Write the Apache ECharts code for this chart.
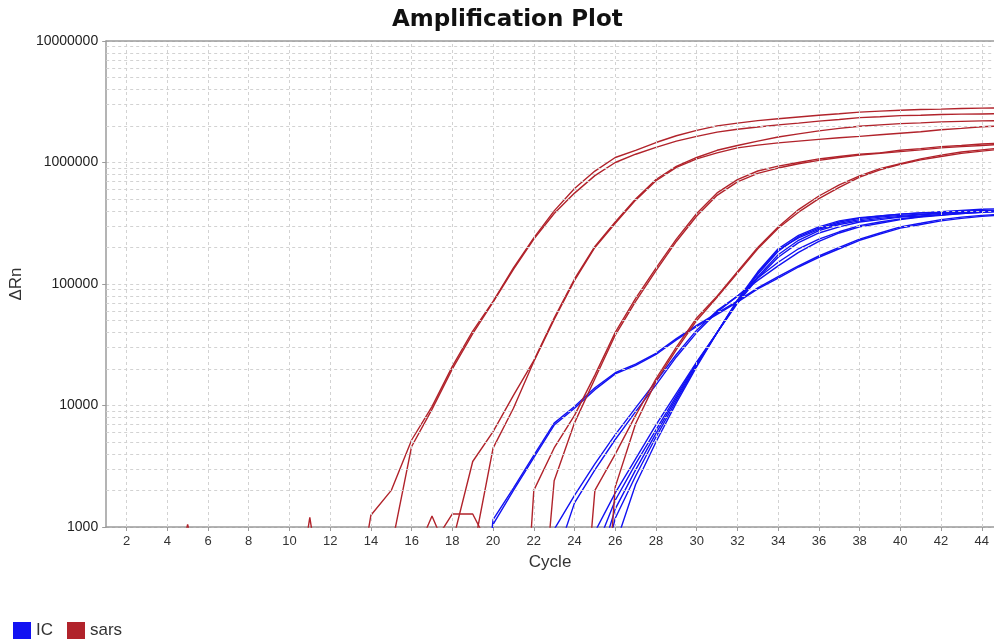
<!DOCTYPE html>
<html>
<head>
<meta charset="utf-8">
<title>Amplification Plot</title>
<script src="https://cdn.jsdelivr.net/npm/echarts@6/dist/echarts.min.js"></script>
<style>
  html, body { margin: 0; padding: 0; background: #fff; }
  #chart { width: 994px; height: 641px; }
</style>
</head>
<body>
<div id="chart"></div>
<script>
// x: PCR cycle number
var cycles = [1,2,3,4,5,6,7,8,9,10,11,12,13,14,15,16,17,18,19,20,21,22,23,24,25,26,27,28,29,30,31,32,33,34,35,36,37,38,39,40,41,42,43,44,45]
var cycleTicks = [2,4,6,8,10,12,14,16,18,20,22,24,26,28,30,32,34,36,38,40,42,44]
// dashed grid between the decades
var minorLevels = [2000,3000,4000,5000,6000,7000,8000,9000,
  20000,30000,40000,50000,60000,70000,80000,90000,
  200000,300000,400000,500000,600000,700000,800000,900000,
  2000000,3000000,4000000,5000000,6000000,7000000,8000000,9000000]

// IC (internal control) wells - delta Rn per cycle
var icE1 = [300,250,400,350,200,300,450,350,250,300,400,300,250,350,300,200,250,150,30,
  1150,2090,3890,7160,9800,14000,18600,21900,26900,35500,45700,57500,72400,93000,115000,141000,170000,200000,234000,263000,295000,316000,339000,355000,367000,376000]
var icE2 = [250,300,350,300,250,350,400,300,300,250,350,250,300,300,250,250,200,100,20,
  1050,2000,3720,6900,9500,13500,18200,21400,26300,34700,44700,56200,70800,91200,112000,138000,166000,195000,229000,257000,288000,309000,331000,347000,360000,370000]
var icF1 = [350,300,250,300,400,350,300,250,350,300,250,300,350,300,250,300,350,300,250,200,150,50,
  955,1820,3310,5750,9550,15800,26300,41700,60300,79400,107000,141000,182000,224000,263000,295000,316000,339000,355000,367000,380000,389000,398000]
var icF2 = [300,350,300,250,300,350,250,300,350,250,300,350,250,300,350,300,250,300,350,300,250,200,
  500,1580,2950,5250,8900,14800,25100,39800,58900,79400,112000,151000,195000,234000,269000,302000,324000,343000,359000,372000,385000,394000,403000]
var icG1 = [250,300,350,300,250,300,350,400,300,250,300,350,300,250,300,350,300,250,300,350,300,300,350,
  300,912,1910,3630,6920,12600,22900,39800,69200,112000,166000,219000,263000,295000,324000,339000,355000,363000,372000,380000,389000,394000]
var icG2 = [300,250,300,350,300,250,300,350,300,250,300,350,300,250,300,350,300,250,300,250,300,250,200,
  100,631,1660,3310,6310,12000,22400,39800,70800,115000,174000,229000,275000,309000,331000,347000,359000,372000,380000,389000,398000,403000]
var icG3 = [350,300,250,300,350,300,250,300,350,300,250,300,350,300,250,300,350,300,250,300,250,200,150,
  50,398,1410,2950,5890,11500,21900,39800,72400,120000,186000,245000,288000,324000,347000,363000,376000,385000,394000,403000,412000,417000]
var icG4 = [300,350,300,250,300,350,300,250,300,350,300,250,300,350,300,250,300,350,300,250,300,250,200,150,
  63,708,2240,5010,10500,20900,39800,74100,126000,195000,251000,295000,331000,351000,363000,376000,385000,389000,398000,403000,407000]
var icG5 = [250,300,350,300,250,300,350,300,250,300,350,300,250,300,350,300,250,300,350,300,250,300,250,200,
  250,1180,2630,5500,11000,21400,39800,72400,123000,191000,240000,282000,316000,339000,355000,367000,376000,385000,394000,398000,403000]

// sars wells - delta Rn per cycle
var sarsA1 = [150,300,250,200,1050,200,350,280,300,250,320,300,130,
  1250,2000,5200,9800,21000,41000,72000,136000,240000,400000,610000,850000,1100000,1260000,1460000,1660000,1840000,2000000,2110000,2210000,2290000,2370000,2450000,2520000,2600000,2650000,2690000,2730000,2750000,2780000,2800000,2820000]
var sarsA2 = [200,180,350,300,250,400,300,200,350,300,200,250,300,400,
  670,4600,9300,20000,39000,71000,132000,234000,380000,560000,780000,1000000,1170000,1330000,1500000,1640000,1780000,1880000,1960000,2040000,2110000,2190000,2260000,2340000,2380000,2430000,2450000,2480000,2500000,2510000,2520000]
var sarsB1 = [300,250,200,350,300,250,300,200,250,300,200,350,300,250,200,300,350,
  740,3460,6100,12100,23400,52500,110000,204000,324000,500000,725000,930000,1100000,1260000,1380000,1500000,1620000,1720000,1820000,1910000,1990000,2040000,2090000,2120000,2160000,2180000,2200000,2210000]
var sarsB2 = [250,300,350,250,200,300,350,250,300,200,300,250,350,300,250,300,300,350,
  600,4460,9500,23000,51000,107000,200000,316000,490000,708000,912000,1070000,1200000,1320000,1390000,1450000,1500000,1550000,1600000,1640000,1690000,1740000,1790000,1860000,1910000,1970000,2000000]
var sarsC1 = [200,300,250,350,200,300,250,200,300,100,1200,100,250,300,200,500,1230,500,300,200,5,
  2000,4470,8300,17800,40000,76000,135000,234000,380000,562000,724000,851000,933000,1000000,1070000,1120000,1170000,1200000,1260000,1300000,1350000,1380000,1420000,1440000]
var sarsC2 = [300,250,200,300,350,250,200,300,250,300,200,300,250,200,300,350,700,1280,1280,600,300,30,
  2400,7200,16600,38000,72000,129000,224000,363000,537000,692000,813000,900000,977000,1040000,1100000,1150000,1190000,1230000,1270000,1320000,1350000,1380000,1410000]
var sarsD1 = [300,250,350,300,250,200,300,350,250,300,250,200,300,350,300,250,200,300,250,350,300,250,200,20,
  2000,3980,8300,16600,30200,52500,79400,126000,200000,295000,410000,530000,655000,776000,891000,977000,1070000,1150000,1220000,1270000,1320000]
var sarsD2 = [250,300,200,350,300,250,300,200,350,250,300,200,250,300,350,200,300,250,300,200,250,300,200,150,10,
  2140,7080,15800,28800,50100,77600,123000,195000,288000,390000,505000,625000,759000,871000,966000,1050000,1120000,1190000,1240000,1290000]

var icLines = [icE1, icE2, icF1, icF2, icG1, icG2, icG3, icG4, icG5]
var sarsLines = [sarsA1, sarsA2, sarsB1, sarsB2, sarsC1, sarsC2, sarsD1, sarsD2]

var IC_COLOR = '#1212f2'
var SARS_COLOR = '#b1232b'
var AXIS_COLOR = '#9b9b9b'
var GRID_COLOR = '#d2d2d2'

function lineSeries(name, color, values) {
  return {
    name: name,
    type: 'line',
    symbol: 'none',
    showSymbol: false,
    z: 3,
    data: cycles.map(function (c, i) { return [c, values[i]] }),
    itemStyle: { color: color },
    lineStyle: { color: color, width: 1.4 },
    emphasis: { disabled: true }
  }
}

var series = []
// grid lines (drawn through the axes, under the curves)
series.push({
  name: 'grid',
  type: 'line',
  data: [],
  z: 1,
  silent: true,
  markLine: {
    silent: true,
    symbol: ['none', 'none'],
    label: { show: false },
    lineStyle: { type: [3, 3], color: GRID_COLOR, width: 1 },
    data: cycleTicks.map(function (v) { return { xAxis: v } })
      .concat(minorLevels.map(function (v) { return { yAxis: v } }))
  }
})
icLines.forEach(function (d) { series.push(lineSeries('IC', IC_COLOR, d)) })
sarsLines.forEach(function (d) { series.push(lineSeries('sars', SARS_COLOR, d)) })

var myChart = echarts.init(document.getElementById('chart'))
var option = {
  animation: false,
  backgroundColor: '#fff',
  title: {
    text: 'Amplification Plot',
    left: 387,
    top: 4,
    textStyle: { fontFamily: 'DejaVu Sans', fontWeight: 'bold', fontSize: 23, color: '#111' }
  },
  legend: {
    data: ['IC', 'sars'],
    left: 8,
    top: 617,
    icon: 'rect',
    itemWidth: 18,
    itemHeight: 17,
    itemGap: 14,
    textStyle: { fontFamily: 'Liberation Sans', fontSize: 17, color: '#333' }
  },
  grid: { left: 106, right: 0, top: 41, bottom: 114 },
  xAxis: [
    {
      type: 'value',
      min: 1,
      max: 44.6,
      name: 'Cycle',
      nameLocation: 'middle',
      nameGap: 27,
      nameTextStyle: { fontFamily: 'Liberation Sans', fontSize: 17, color: '#333' },
      axisLine: { show: true, lineStyle: { color: AXIS_COLOR, width: 1.5 } },
      axisTick: { show: true, length: 4, customValues: cycleTicks, lineStyle: { color: AXIS_COLOR } },
      axisLabel: { customValues: cycleTicks, fontFamily: 'Liberation Sans', fontSize: 13, color: '#333', margin: 8 },
      splitLine: { show: false }
    },
    {
      type: 'value',
      position: 'top',
      min: 1,
      max: 44.6,
      axisLine: { show: true, lineStyle: { color: AXIS_COLOR, width: 1.5 } },
      axisTick: { show: false },
      axisLabel: { show: false },
      splitLine: { show: false }
    }
  ],
  yAxis: {
    type: 'log',
    logBase: 10,
    min: 1000,
    max: 10000000,
    name: 'ΔRn',
    nameLocation: 'middle',
    nameGap: 77,
    nameTextStyle: { fontFamily: 'Liberation Sans', fontSize: 17, color: '#333' },
    axisLine: { show: true, lineStyle: { color: AXIS_COLOR, width: 1.5 } },
    axisTick: { show: true, length: 4, lineStyle: { color: AXIS_COLOR } },
    axisLabel: {
      fontFamily: 'Liberation Sans',
      fontSize: 14,
      color: '#222',
      margin: 8,
      formatter: function (v) { return String(Math.round(v)) }
    },
    splitLine: { show: true, lineStyle: { type: [3, 3], color: GRID_COLOR, width: 1 } }
  },
  series: series
}
myChart.setOption(option)
</script>
</body>
</html>
